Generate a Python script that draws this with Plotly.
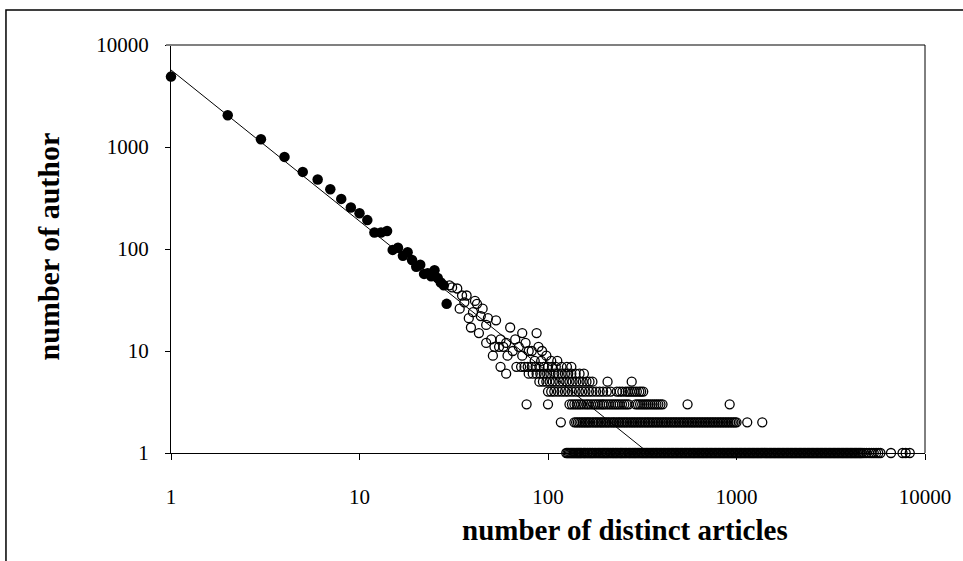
import plotly.graph_objects as go

# ---- Data ----
# Filled dots: authors with few distinct articles
FILLED_X = [1, 2, 3, 4, 5, 6, 7, 8, 9, 10, 11, 12, 13, 14, 15, 16, 17, 18, 19, 20,
            21, 22, 23, 24, 25, 26, 27, 28, 29]
FILLED_Y = [4900, 2050, 1190, 800, 570, 480, 385, 310, 255, 224, 192, 145, 145, 150,
            98, 103, 86, 93, 78, 67, 70, 57, 58, 54, 62, 52, 47, 44, 29]

# Open circles, scattered part (counts >= 8)
SCATTER_X = [30, 31, 33, 35, 37, 41, 42, 34, 45, 38, 48, 53, 47, 39, 43, 63, 73, 87,
             50, 56, 67, 76, 89, 47, 52, 58, 65, 79, 93, 51, 61, 73, 85, 98, 55, 44,
             36, 40, 60, 70, 82, 92, 104, 112]
SCATTER_Y = [44, 42, 41, 35, 35, 31, 29, 26, 26, 21, 21, 20, 18, 17, 15, 17, 15, 15,
             13, 13, 13, 12, 11, 12, 11, 11, 10, 10, 10, 9, 9, 9, 8, 9, 11, 22,
             30, 24, 12, 11, 10, 8, 8, 8]

# Open circles on the integer rows (y = count of authors)
ROW7_X = [56, 68, 72, 75, 78, 82, 86, 90, 95, 100, 105, 110, 118, 126, 133]
ROW6_X = [60, 79, 83, 87, 91, 95, 99, 103, 108, 113, 118, 123, 128, 133, 140, 147, 155]
ROW5_X = [90, 94, 98, 102, 106, 110, 115, 120, 125, 130, 135, 141, 147, 153, 160, 166,
          172, 207, 278]
ROW4_X = [100, 104, 108, 113, 118, 123, 128, 134, 140, 146, 152, 158, 165, 172, 180,
          188, 196, 205, 215, 232, 240, 248, 258, 265, 272, 280, 288, 296, 305, 312, 320]
ROW3_X = [77, 100, 130, 134, 138, 142, 146, 150, 155, 160, 164, 169, 174, 179, 184, 189,
          194, 198, 204, 210, 216, 222, 228, 234, 240, 247, 254, 261, 268, 292, 300, 308,
          316, 324, 332, 340, 349, 358, 367, 376, 385, 395, 405, 550, 920]
ROW2_X = [117, 138, 141, 144, 147, 150, 153, 156, 159, 162, 165, 168, 172, 175, 179,
          182, 186, 190, 193, 197, 201, 205, 209, 213, 218, 222, 226, 231, 236, 240,
          245, 250, 255, 260, 265, 271, 276, 282, 287, 293, 299, 305, 311, 317, 324,
          330, 337, 343, 350, 357, 364, 372, 379, 387, 395, 403, 411, 419, 427, 436,
          445, 454, 463, 472, 481, 491, 501, 511, 521, 531, 542, 553, 564, 575, 587,
          598, 610, 623, 635, 648, 661, 674, 688, 701, 715, 730, 744, 759, 774, 790,
          806, 822, 838, 855, 872, 890, 907, 926, 944, 963, 982, 1000, 1140, 1370]
ROW1_X = [125, 127, 129, 131, 133, 135, 137, 139, 141, 143, 145, 147, 149, 151, 154,
          156, 158, 161, 163, 166, 168, 171, 173, 176, 179, 182, 185, 188, 191, 194,
          197, 200, 203, 206, 209, 213, 216, 220, 223, 227, 230, 234, 238, 242, 245,
          249, 253, 257, 261, 266, 270, 274, 279, 283, 288, 292, 297, 302, 307, 312,
          317, 322, 327, 332, 337, 343, 348, 354, 360, 365, 371, 377, 383, 389, 396,
          402, 409, 415, 422, 429, 436, 443, 450, 457, 464, 472, 479, 487, 495, 503,
          511, 519, 528, 536, 545, 553, 562, 571, 581, 590, 599, 609, 619, 629, 639,
          649, 660, 670, 681, 692, 703, 715, 726, 738, 750, 762, 774, 787, 799, 812,
          825, 839, 852, 866, 880, 894, 909, 923, 938, 953, 969, 984, 1000, 1016, 1033,
          1049, 1066, 1083, 1101, 1119, 1137, 1155, 1174, 1193, 1212, 1231, 1251, 1271,
          1292, 1313, 1334, 1355, 1377, 1399, 1422, 1445, 1468, 1492, 1516, 1540, 1565,
          1590, 1616, 1642, 1668, 1695, 1722, 1750, 1778, 1807, 1836, 1866, 1896, 1926,
          1957, 1989, 2021, 2053, 2086, 2120, 2154, 2189, 2224, 2260, 2296, 2333, 2371,
          2409, 2448, 2487, 2527, 2568, 2609, 2651, 2694, 2737, 2781, 2826, 2872, 2918,
          2965, 3013, 3061, 3110, 3160, 3211, 3263, 3316, 3369, 3423, 3478, 3534, 3591,
          3649, 3708, 3767, 3828, 3890, 3952, 4016, 4080, 4146, 4213, 4281, 4349, 4419,
          4491, 4563, 4636, 4750, 4890, 5050, 5200, 5350, 5500, 5650, 5800,
          6600, 7600, 7900, 8300]

# Power-law trend line end points
TREND_X = [1, 342]
TREND_Y = [5690, 1]

TICKS = [1, 10, 100, 1000, 10000]
TICK_TEXT = ["1", "10", "100", "1000", "10000"]

FONT = "Liberation Serif, Times New Roman, serif"

# build open-circle series from the rows
open_x = list(SCATTER_X)
open_y = list(SCATTER_Y)
for yv, row in [(7, ROW7_X), (6, ROW6_X), (5, ROW5_X), (4, ROW4_X),
                (3, ROW3_X), (2, ROW2_X), (1, ROW1_X)]:
    open_x += row
    open_y += [yv] * len(row)

fig = go.Figure()

fig.add_trace(go.Scatter(
    x=open_x, y=open_y, mode="markers",
    marker=dict(symbol="circle-open", size=9, color="black", line=dict(width=1.3)),
    cliponaxis=False, showlegend=False
))

fig.add_trace(go.Scatter(
    x=TREND_X, y=TREND_Y, mode="lines",
    line=dict(color="black", width=1),
    showlegend=False
))

fig.add_trace(go.Scatter(
    x=FILLED_X, y=FILLED_Y, mode="markers",
    marker=dict(symbol="circle", size=10.5, color="black"),
    cliponaxis=False, showlegend=False
))

# plot area in page pixels: l=171..934, t=45..453
L, R, T, B = 171, 934, 45, 453
W, H = 963, 561
pw, ph = R - L, B - T


def px(xp):
    return (xp - L) / pw


def py(yp):
    return (B - yp) / ph


fig.update_layout(
    width=W, height=H,
    margin=dict(l=L, r=W - R, t=T, b=H - B),
    paper_bgcolor="white",
    plot_bgcolor="white",
    font=dict(family=FONT, color="black"),
    xaxis=dict(
        type="log", range=[0, 4],
        tickvals=TICKS, ticktext=TICK_TEXT,
        ticks="outside", ticklen=6, tickcolor="black", tickwidth=1,
        showline=True, linecolor="black", linewidth=1,
        showgrid=False, zeroline=False,
        tickfont=dict(family=FONT, size=21, color="black"),
        ticklabelstandoff=19,
        layer="below traces"
    ),
    yaxis=dict(
        type="log", range=[0, 4],
        tickvals=TICKS, ticktext=TICK_TEXT,
        ticks="outside", ticklen=5, tickcolor="black", tickwidth=1,
        showline=True, linecolor="black", linewidth=1,
        showgrid=False, zeroline=False,
        tickfont=dict(family=FONT, size=21, color="black"),
        ticklabelstandoff=12,
        layer="below traces"
    ),
    shapes=[
        # outer chart frame
        dict(type="rect", xref="paper", yref="paper",
             x0=px(4), x1=px(990), y0=py(590), y1=py(10),
             line=dict(color="black", width=1.5)),
        # top border of plot area (grey)
        dict(type="line", xref="paper", yref="paper",
             x0=px(166), x1=1, y0=1, y1=1,
             line=dict(color="#808080", width=2)),
        # right border of plot area
        dict(type="line", xref="paper", yref="paper",
             x0=1, x1=1, y0=0, y1=1,
             line=dict(color="black", width=1)),
    ],
    annotations=[
        dict(text="<b>number of distinct articles</b>", xref="paper", yref="paper",
             x=px(630), y=py(530), xanchor="center", yanchor="middle",
             showarrow=False,
             font=dict(family=FONT, size=29, color="black")),
        dict(text="<b>number of author</b>", xref="paper", yref="paper",
             x=px(47), y=py(246), xanchor="center", yanchor="middle",
             showarrow=False, textangle=-90,
             font=dict(family=FONT, size=30, color="black")),
    ]
)

# page body margin would shift the chart by 8px; remove it
fig.write_html("out.html", config={"displayModeBar": False},
               post_script="document.body.style.margin='0';")
